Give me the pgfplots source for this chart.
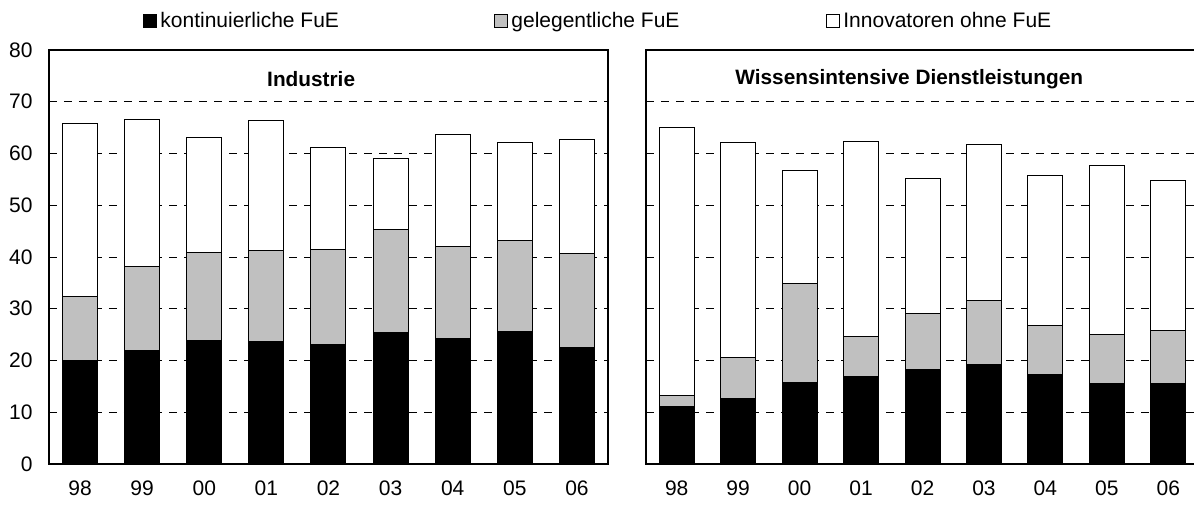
\documentclass[border=0pt]{standalone}
\usepackage{fontspec}
\setmainfont{Liberation Sans}
\usepackage{pgfplots}
\usepackage{pgfplotstable}
\pgfplotsset{compat=1.18}
\definecolor{grayfill}{RGB}{192,192,192}

\pgfplotstableread{
x k g o
0 20.0 12.4 33.4
1 21.9 16.2 28.4
2 23.8 17.1 22.1
3 23.6 17.6 25.1
4 23.0 18.4 19.8
5 25.4 19.9 13.7
6 24.3 17.8 21.5
7 25.6 17.5 19.1
8 22.6 18.1 22.1
}\industrie

\pgfplotstableread{
x k g o
0 11.1 2.1 51.8
1 12.7 7.8 41.6
2 15.7 19.1 21.9
3 16.9 7.8 37.6
4 18.2 10.8 26.1
5 19.3 12.2 30.2
6 17.3 9.4 29.1
7 15.5 9.6 32.5
8 15.5 10.3 28.9
}\dienst

\pgfplotsset{
  mybar/.style={
    ybar stacked, bar width=17.5pt,
    scale only axis, height=207pt,
    anchor=south west,
    xmin=-0.5, xmax=8.5, ymin=0, ymax=80,
    xtick={0,...,8}, xticklabels={98,99,00,01,02,03,04,05,06},
    ytick={0,10,...,80},
    major tick length=0pt,
    ymajorgrids,
    grid style={black, line width=0.5pt, dash pattern=on 4pt off 3.5pt},
    axis line style={black, line width=0.6pt},
    xticklabel style={yshift=-7pt, inner sep=1pt},
    yticklabel style={xshift=-4.5pt},
    tick label style={font=\fontsize{10.5pt}{12.5pt}\selectfont},
    /pgf/number format/assume math mode=true,
    clip=false,
  }
}

\begin{document}
\fontsize{10.5pt}{12.5pt}\selectfont
\begin{tikzpicture}
\begin{axis}[mybar, at={(24.5pt,20pt)}, width=279.5pt]
\addplot[fill=black, draw=black, line width=0.5pt] table[x=x,y=k]{\industrie};
\addplot[fill=grayfill, draw=black, line width=0.5pt] table[x=x,y=g]{\industrie};
\addplot[fill=white, draw=black, line width=0.5pt] table[x=x,y=o]{\industrie};
\node[font=\fontsize{10.4pt}{12pt}\selectfont\bfseries] at (rel axis cs:0.469,0.93) {Industrie};
\end{axis}
\begin{axis}[mybar, at={(323pt,20pt)}, width=276.5pt, yticklabels={}]
\addplot[fill=black, draw=black, line width=0.5pt] table[x=x,y=k]{\dienst};
\addplot[fill=grayfill, draw=black, line width=0.5pt] table[x=x,y=g]{\dienst};
\addplot[fill=white, draw=black, line width=0.5pt] table[x=x,y=o]{\dienst};
\node[font=\fontsize{10.4pt}{12pt}\selectfont\bfseries] at (rel axis cs:0.476,0.93) {Wissensintensive Dienstleistungen};
\end{axis}
% legend
\begin{scope}[x=0.5pt,y=-0.5pt,yshift=252pt]
\draw[fill=black, line width=0.5pt] (143,15) rectangle (156,28);
\node[anchor=base west, inner sep=0pt] at (160,27.5) {kontinuierliche FuE};
\draw[fill=grayfill, line width=0.5pt] (494,15) rectangle (507,28);
\node[anchor=base west, inner sep=0pt] at (511,27.5) {gelegentliche FuE};
\draw[fill=white, line width=0.5pt] (826,15) rectangle (839,28);
\node[anchor=base west, inner sep=0pt] at (843,27.5) {Innovatoren ohne FuE};
\end{scope}
\pgfresetboundingbox
\useasboundingbox (0,0) rectangle (597pt,252pt);
\end{tikzpicture}
\end{document}
